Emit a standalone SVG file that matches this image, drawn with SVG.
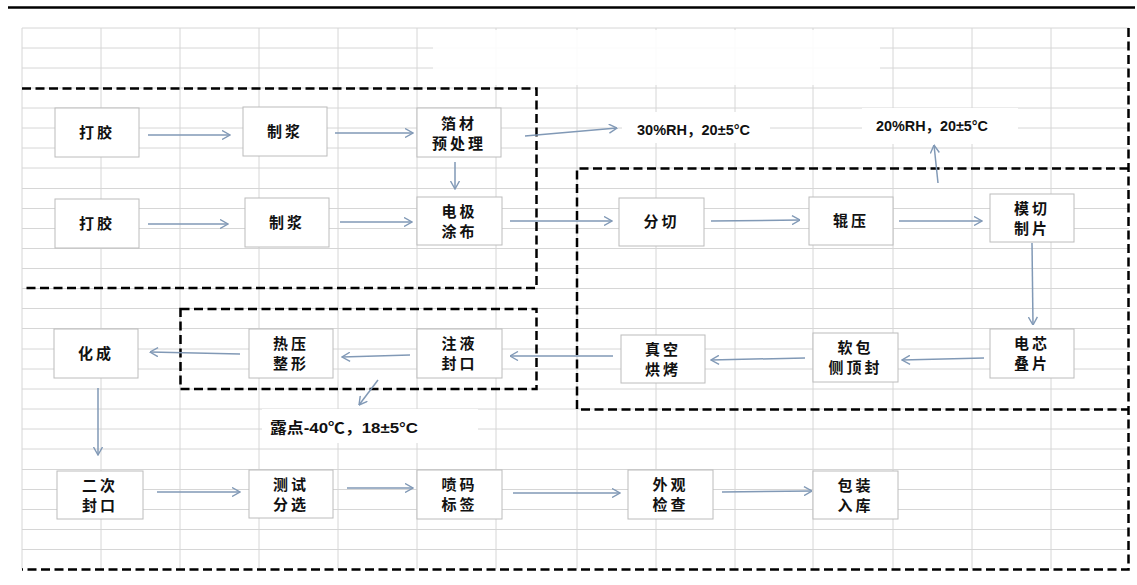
<svg xmlns="http://www.w3.org/2000/svg" width="1137" height="585" viewBox="0 0 1137 585">
<defs>
<style>
.grid line{stroke:#d6d6d6;stroke-width:1}
.node rect{fill:#fff;stroke:#bcbcbc;stroke-width:1}
.node text{font-family:"Noto Sans CJK SC","Noto Sans CJK JP",sans-serif;font-weight:700;font-size:15px;fill:#111;text-anchor:middle;letter-spacing:3px}
.dash{fill:none;stroke:#000;stroke-width:2.5;stroke-dasharray:9 4.5}
.conn line{stroke:#8199b6;stroke-width:1.5;marker-end:url(#ah)}
.lbl{font-family:"Liberation Sans",Arial,"Noto Sans CJK SC",sans-serif;font-weight:700;font-size:15px;fill:#111}
</style>
<marker id="ah" viewBox="0 0 9 10" refX="8.5" refY="5" markerWidth="9" markerHeight="10" markerUnits="userSpaceOnUse" orient="auto">
<path d="M0.5,0.5 L8.5,5 L0.5,9.5" fill="none" stroke="#8199b6" stroke-width="1.4"/>
</marker>
</defs>
<rect width="1137" height="585" fill="#fff"/>
<line x1="8" y1="7.5" x2="1135" y2="7.5" stroke="#000" stroke-width="2.5"/>
<g class="grid" id="grid">
<line x1="22" y1="28" x2="22" y2="569"/><line x1="101" y1="28" x2="101" y2="569"/><line x1="180" y1="28" x2="180" y2="569"/><line x1="259" y1="28" x2="259" y2="569"/><line x1="338" y1="28" x2="338" y2="569"/><line x1="417" y1="28" x2="417" y2="569"/><line x1="496" y1="28" x2="496" y2="569"/><line x1="577" y1="28" x2="577" y2="569"/><line x1="656" y1="28" x2="656" y2="569"/><line x1="735" y1="28" x2="735" y2="569"/><line x1="813" y1="28" x2="813" y2="569"/><line x1="893" y1="28" x2="893" y2="569"/><line x1="972" y1="28" x2="972" y2="569"/><line x1="1051" y1="28" x2="1051" y2="569"/>
<line x1="22" y1="28" x2="1129" y2="28"/><line x1="22" y1="48" x2="1129" y2="48"/><line x1="22" y1="68" x2="1129" y2="68"/><line x1="22" y1="88" x2="1129" y2="88"/><line x1="22" y1="108" x2="1129" y2="108"/><line x1="22" y1="128" x2="1129" y2="128"/><line x1="22" y1="148" x2="1129" y2="148"/><line x1="22" y1="168" x2="1129" y2="168"/><line x1="22" y1="188.5" x2="1129" y2="188.5"/><line x1="22" y1="208.5" x2="1129" y2="208.5"/><line x1="22" y1="228.5" x2="1129" y2="228.5"/><line x1="22" y1="248.5" x2="1129" y2="248.5"/><line x1="22" y1="268.5" x2="1129" y2="268.5"/><line x1="22" y1="288.5" x2="1129" y2="288.5"/><line x1="22" y1="308.5" x2="1129" y2="308.5"/><line x1="22" y1="328.5" x2="1129" y2="328.5"/><line x1="22" y1="349" x2="1129" y2="349"/><line x1="22" y1="369" x2="1129" y2="369"/><line x1="22" y1="389" x2="1129" y2="389"/><line x1="22" y1="409" x2="1129" y2="409"/><line x1="22" y1="429" x2="1129" y2="429"/><line x1="22" y1="449" x2="1129" y2="449"/><line x1="22" y1="469.5" x2="1129" y2="469.5"/><line x1="22" y1="489.5" x2="1129" y2="489.5"/><line x1="22" y1="509.5" x2="1129" y2="509.5"/><line x1="22" y1="529.5" x2="1129" y2="529.5"/><line x1="22" y1="549.5" x2="1129" y2="549.5"/>
</g>
<rect x="433" y="30" width="447" height="55" fill="#fff" opacity="0.9"/>
<rect x="622" y="112" width="148" height="31" fill="#fff"/>
<rect x="862" y="108" width="156" height="36" fill="#fff"/>
<rect x="262" y="409" width="216" height="34" fill="#fff"/>
<g id="regions">
<path class="dash" d="M22,88.5 H536.5 V288 H22"/>
<path class="dash" d="M1128.5,168.5 H577 V409.5 H1128.5"/>
<path class="dash" d="M180.5,309 H536.5 V389 H180.5 Z"/>
<path class="dash" d="M1128.5,28 V569.5 H22"/>
</g>
<g class="conn" id="connectors">
<line x1="148" y1="135" x2="230" y2="135"/>
<line x1="335" y1="133" x2="413" y2="133"/>
<line x1="525" y1="136" x2="617" y2="128"/>
<line x1="455" y1="162" x2="455" y2="189"/>
<line x1="148" y1="224" x2="228" y2="224"/>
<line x1="340" y1="222" x2="412" y2="222"/>
<line x1="510" y1="221" x2="612" y2="221"/>
<line x1="711" y1="221" x2="800" y2="220"/>
<line x1="899" y1="221" x2="982" y2="221"/>
<line x1="938" y1="183" x2="934" y2="145"/>
<line x1="1032" y1="243" x2="1033" y2="325"/>
<line x1="984" y1="358" x2="902" y2="360"/>
<line x1="805" y1="358" x2="711" y2="360"/>
<line x1="613" y1="356" x2="510" y2="356"/>
<line x1="410" y1="355" x2="342" y2="357"/>
<line x1="240" y1="354" x2="150" y2="352"/>
<line x1="378" y1="380" x2="359" y2="405"/>
<line x1="98" y1="388" x2="98" y2="455"/>
<line x1="157" y1="492" x2="240" y2="492"/>
<line x1="347" y1="488" x2="413" y2="488"/>
<line x1="513" y1="493" x2="620" y2="493"/>
<line x1="722" y1="492" x2="812" y2="491"/>
</g>
<text class="lbl" x="637" y="135" textLength="113" lengthAdjust="spacingAndGlyphs">30%RH，20±5°C</text>
<text class="lbl" x="876" y="131" textLength="112" lengthAdjust="spacingAndGlyphs">20%RH，20±5°C</text>
<text class="lbl" x="270" y="433" textLength="148" lengthAdjust="spacingAndGlyphs">露点-40℃，18±5°C</text>
<g class="node" id="n1"><rect x="55" y="108" width="84" height="49"/><text x="97" y="138">打胶</text></g>
<g class="node" id="n2"><rect x="243" y="107" width="84" height="49"/><text x="285" y="137">制浆</text></g>
<g class="node" id="n3"><rect x="417" y="108" width="84" height="49"/><text x="459" y="129">箔材</text><text x="459" y="149">预处理</text></g>
<g class="node" id="n4"><rect x="55" y="199" width="84" height="49"/><text x="97" y="229">打胶</text></g>
<g class="node" id="n5"><rect x="245" y="198" width="84" height="49"/><text x="287" y="228">制浆</text></g>
<g class="node" id="n6"><rect x="417" y="197" width="85" height="48"/><text x="459.5" y="217">电极</text><text x="459.5" y="237">涂布</text></g>
<g class="node" id="n7"><rect x="619" y="198" width="85" height="48"/><text x="661.5" y="227">分切</text></g>
<g class="node" id="n8"><rect x="809" y="197" width="84" height="48"/><text x="851" y="226">辊压</text></g>
<g class="node" id="n9"><rect x="990" y="194" width="84" height="48"/><text x="1032" y="214">模切</text><text x="1032" y="234">制片</text></g>
<g class="node" id="n10"><rect x="990" y="329" width="84" height="49"/><text x="1032" y="349">电芯</text><text x="1032" y="369">叠片</text></g>
<g class="node" id="n11"><rect x="813" y="333" width="85" height="49"/><text x="855.5" y="353">软包</text><text x="855.5" y="373">侧顶封</text></g>
<g class="node" id="n12"><rect x="621" y="335" width="84" height="48"/><text x="663" y="355">真空</text><text x="663" y="375">烘烤</text></g>
<g class="node" id="n13"><rect x="417" y="329" width="85" height="49"/><text x="459.5" y="349">注液</text><text x="459.5" y="369">封口</text></g>
<g class="node" id="n14"><rect x="249" y="329" width="84" height="49"/><text x="291" y="349">热压</text><text x="291" y="369">整形</text></g>
<g class="node" id="n15"><rect x="54" y="329" width="84" height="49"/><text x="96" y="359">化成</text></g>
<g class="node" id="n16"><rect x="57" y="471" width="86" height="48"/><text x="100" y="491">二次</text><text x="100" y="511">封口</text></g>
<g class="node" id="n17"><rect x="249" y="470" width="84" height="48"/><text x="291" y="490">测试</text><text x="291" y="510">分选</text></g>
<g class="node" id="n18"><rect x="417" y="470" width="85" height="49"/><text x="459.5" y="490">喷码</text><text x="459.5" y="510">标签</text></g>
<g class="node" id="n19"><rect x="628" y="470" width="85" height="49"/><text x="670.5" y="490">外观</text><text x="670.5" y="510">检查</text></g>
<g class="node" id="n20"><rect x="813" y="471" width="85" height="48"/><text x="855.5" y="491">包装</text><text x="855.5" y="511">入库</text></g>
</svg>
